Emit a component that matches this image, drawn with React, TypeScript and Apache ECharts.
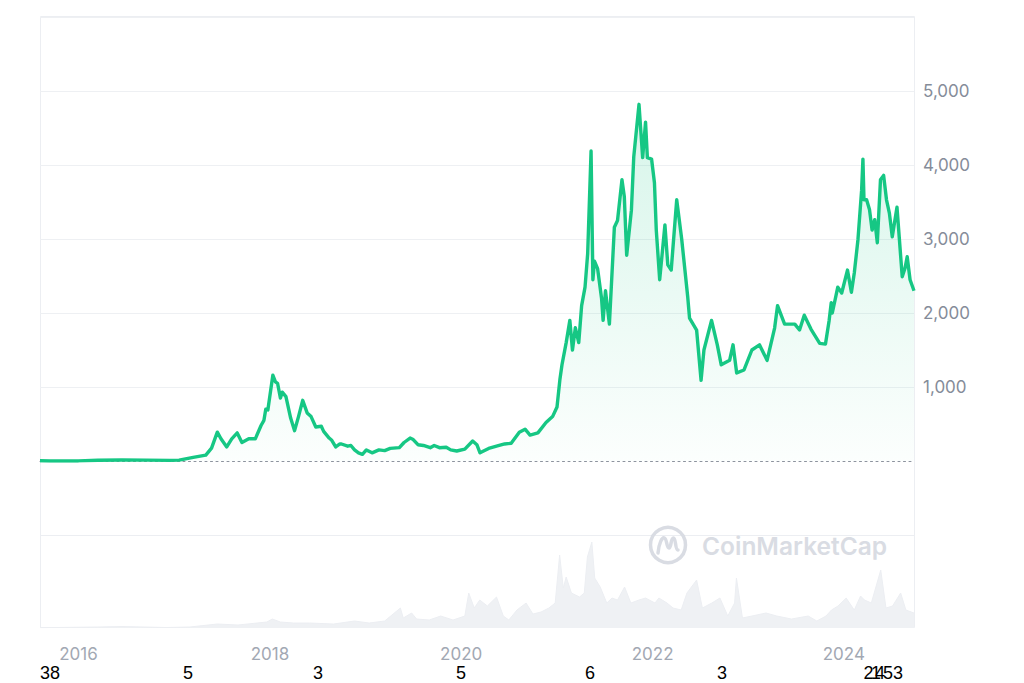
import React, { useEffect, useRef } from "react";
import * as echarts from "echarts";

// ---- data ----
const priceDates = [
  "2015-08-07", "2015-09-15", "2015-11-01", "2016-01-01", "2016-03-15", "2016-06-15", "2016-09-15", "2016-12-15",
  "2017-01-19", "2017-03-14", "2017-05-01", "2017-05-23", "2017-06-14", "2017-06-28", "2017-07-20", "2017-08-08",
  "2017-08-29", "2017-09-16", "2017-10-12", "2017-11-06", "2017-11-28", "2017-12-09", "2017-12-16", "2017-12-24",
  "2018-01-12", "2018-01-22", "2018-01-30", "2018-02-10", "2018-02-17", "2018-03-03", "2018-03-21", "2018-04-05",
  "2018-04-20", "2018-05-06", "2018-05-23", "2018-06-07", "2018-06-25", "2018-07-16", "2018-07-25", "2018-08-15",
  "2018-08-25", "2018-09-09", "2018-09-25", "2018-10-01", "2018-10-25", "2018-11-06", "2018-11-20", "2018-12-05",
  "2018-12-20", "2019-01-04", "2019-01-26", "2019-02-21", "2019-03-15", "2019-04-05", "2019-05-10", "2019-05-28",
  "2019-06-20", "2019-07-02", "2019-07-20", "2019-08-10", "2019-09-05", "2019-09-20", "2019-10-10", "2019-11-05",
  "2019-11-22", "2019-12-15", "2020-01-15", "2020-02-14", "2020-03-01", "2020-03-13", "2020-04-15", "2020-05-15",
  "2020-06-15", "2020-07-10", "2020-08-10", "2020-09-01", "2020-09-20", "2020-10-20", "2020-11-20", "2020-12-15",
  "2021-01-01", "2021-01-12", "2021-01-20", "2021-02-05", "2021-02-19", "2021-03-01", "2021-03-12", "2021-03-25",
  "2021-04-05", "2021-04-18", "2021-04-28", "2021-05-11", "2021-05-18", "2021-05-24", "2021-06-05", "2021-06-20",
  "2021-06-26", "2021-07-05", "2021-07-20", "2021-08-08", "2021-08-20", "2021-09-06", "2021-09-15", "2021-09-24",
  "2021-10-12", "2021-10-21", "2021-11-10", "2021-11-24", "2021-12-05", "2021-12-12", "2021-12-28", "2022-01-08",
  "2022-01-15", "2022-01-28", "2022-02-17", "2022-02-28", "2022-03-13", "2022-04-03", "2022-04-22", "2022-05-15",
  "2022-05-22", "2022-06-18", "2022-07-05", "2022-07-16", "2022-08-14", "2022-09-05", "2022-09-20", "2022-10-22",
  "2022-11-04", "2022-11-18", "2022-12-16", "2023-01-15", "2023-02-13", "2023-03-14", "2023-04-12", "2023-04-23",
  "2023-05-20", "2023-06-28", "2023-07-16", "2023-08-03", "2023-08-29", "2023-10-01", "2023-10-23", "2023-11-06",
  "2023-11-14", "2023-11-18", "2023-12-09", "2023-12-24", "2024-01-15", "2024-01-30", "2024-02-10", "2024-02-24",
  "2024-03-09", "2024-03-14", "2024-03-18", "2024-03-28", "2024-04-08", "2024-04-18", "2024-04-28", "2024-05-08",
  "2024-05-20", "2024-06-01", "2024-06-12", "2024-06-23", "2024-07-04", "2024-07-22", "2024-08-11", "2024-08-22",
  "2024-08-30", "2024-09-10", "2024-09-25",
];
const priceValues = [
  2.8, 1, 1, 1, 11, 14, 12, 8,
  12, 50, 80, 175, 390, 300, 190, 300,
  380, 250, 300, 300, 480, 550, 700, 690,
  1160, 1070, 1050, 850, 930, 870, 580, 410,
  600, 820, 650, 600, 460, 470, 400, 310,
  280, 190, 230, 230, 200, 210, 150, 110,
  90, 150, 110, 150, 140, 170, 180, 250,
  310, 290, 220, 210, 180, 210, 180, 185,
  150, 135, 160, 270, 220, 110, 170, 200,
  230, 240, 390, 430, 350, 380, 520, 600,
  730, 1100, 1300, 1600, 1900, 1500, 1800, 1600,
  2100, 2350, 2800, 4190, 2450, 2700, 2600, 2200,
  1900, 2300, 1850, 3160, 3250, 3800, 3570, 2780,
  3390, 4110, 4820, 4100, 4580, 4100, 4080, 3760,
  3120, 2450, 3190, 2650, 2580, 3530, 3000, 2220,
  1930, 1770, 1090, 1500, 1900, 1570, 1300, 1360,
  1570, 1190, 1230, 1500, 1570, 1360, 1800, 2100,
  1850, 1850, 1770, 1970, 1780, 1590, 1580, 1900,
  2140, 2000, 2350, 2270, 2580, 2280, 2540, 2990,
  3660, 4080, 3530, 3530, 3400, 3120, 3260, 2950,
  3800, 3860, 3530, 3350, 3030, 3430, 2490, 2610,
  2760, 2450, 2300,
];

const volumeDates = [
  "2015-08-07", "2016-03-15", "2016-06-15", "2016-12-01", "2017-03-01", "2017-06-14", "2017-09-01", "2017-12-20",
  "2018-01-10", "2018-02-10", "2018-04-01", "2018-06-01", "2018-09-01", "2018-11-20", "2019-01-15", "2019-03-15",
  "2019-05-14", "2019-05-25", "2019-06-26", "2019-07-15", "2019-09-01", "2019-10-15", "2019-12-01", "2020-01-15",
  "2020-01-30", "2020-02-20", "2020-03-12", "2020-04-10", "2020-05-15", "2020-06-10", "2020-07-01", "2020-08-01",
  "2020-09-05", "2020-10-01", "2020-11-01", "2020-12-01", "2020-12-25", "2021-01-11", "2021-01-25", "2021-02-05",
  "2021-02-25", "2021-03-28", "2021-04-15", "2021-04-27", "2021-05-14", "2021-05-25", "2021-06-15", "2021-07-10",
  "2021-07-30", "2021-08-20", "2021-09-16", "2021-10-10", "2021-11-10", "2021-12-05", "2022-01-10", "2022-01-25",
  "2022-02-25", "2022-03-20", "2022-04-20", "2022-05-12", "2022-06-18", "2022-07-10", "2022-08-15", "2022-09-15",
  "2022-10-15", "2022-11-10", "2022-11-17", "2022-12-10", "2023-01-15", "2023-03-10", "2023-04-20", "2023-06-15",
  "2023-08-18", "2023-09-20", "2023-10-25", "2023-11-15", "2023-12-10", "2024-01-10", "2024-02-10", "2024-03-05",
  "2024-03-20", "2024-04-15", "2024-05-21", "2024-06-10", "2024-07-05", "2024-08-05", "2024-08-25", "2024-09-25",
];
const volumeValues = [
  0.3, 1, 1.5, 0.5, 1, 4, 3, 6,
  9, 6, 5, 5, 4, 7, 5, 7,
  20, 10, 15, 9, 8, 12, 8, 12,
  35, 20, 28, 22, 31, 12, 8, 18,
  25, 14, 16, 20, 25, 73, 40, 51,
  35, 31, 35, 71, 86, 50, 41, 25,
  30, 28, 41, 25, 28, 30, 25, 30,
  25, 20, 18, 35, 48, 20, 25, 30,
  12, 25, 50, 10, 12, 15, 12, 9,
  12, 7, 12, 18, 22, 30, 18, 32,
  28, 25, 58, 20, 22, 35, 18, 15,
];

const yTickLabels = [1000, 2000, 3000, 4000, 5000];
const yearLabels = [2016, 2018, 2020, 2022, 2024];
const strayTexts = ["38", "5", "3", "5", "6", "3", "2", "1", "4", "53"];
const watermarkText = "CoinMarketCap";

// ---- layout / style ----
const strayX = [50, 188, 318, 461, 590, 722, 868.5, 876, 880, 893];
const GREEN = "#16c784";

try {
  echarts.graphic.registerShape(
    "cmcWave",
    (echarts.graphic as any).extendPath(
      "M-10 7 C-9 -3 -6 -9 -3.5 -8 C-1 -7 -1.5 2 1 2 C3.5 2 2.5 -8 5.5 -8 C8 -8 7 4 10 4",
      {}
    )
  );
} catch (e) {}

const priceData = priceDates.map((d, i) => [d, priceValues[i]]);
const volumeData = volumeDates.map((d, i) => [d, volumeValues[i]]);

export default function App() {
  const ref = useRef<HTMLDivElement>(null);
  useEffect(() => {
    if (!ref.current) return;
    const chart = echarts.init(ref.current, undefined, { renderer: "svg" });
    const xMin = priceDates[0];
    const xMax = priceDates[priceDates.length - 1];
    const graphics: any[] = [
      {
        type: "rect",
        z: 0,
        shape: { x: 40.5, y: 16.5, width: 874, height: 611 },
        style: { fill: "none", stroke: "#eceef2", lineWidth: 1 },
      },
      {
        type: "line",
        z: 0,
        shape: { x1: 40, y1: 535.5, x2: 914, y2: 535.5 },
        style: { stroke: "#eceef2", lineWidth: 1 },
      },
      {
        type: "circle",
        z: 1,
        shape: { cx: 668, cy: 545, r: 17.5 },
        style: { fill: "none", stroke: "#d9dce3", lineWidth: 3.5 },
      },
      {
        type: "cmcWave",
        z: 1,
        x: 668,
        y: 546,
        style: { fill: "none", stroke: "#d9dce3", lineWidth: 3.5, lineCap: "round", lineJoin: "round" },
      },
      {
        type: "text",
        z: 1,
        x: 702,
        y: 546,
        style: {
          text: watermarkText,
          fontFamily: "Inter",
          fontWeight: 600,
          fontSize: 24.5,
          fill: "#d9dce3",
          verticalAlign: "middle",
          align: "left",
        },
      },
    ];
    strayTexts.forEach((t, i) => {
      graphics.push({
        type: "text",
        z: 5,
        x: strayX[i],
        y: 672.5,
        style: {
          text: t,
          fontFamily: '"Liberation Sans Narrow", "Liberation Sans", sans-serif',
          fontSize: 18,
          fill: "#000",
          align: "center",
          verticalAlign: "middle",
        },
      });
    });

    chart.setOption({
      animation: false,
      backgroundColor: "#ffffff",
      grid: [
        { left: 40, right: 110, top: 17, height: 444 },
        { left: 40, right: 110, top: 535, height: 93 },
      ],
      xAxis: [
        {
          type: "time",
          gridIndex: 0,
          min: xMin,
          max: xMax,
          axisLine: { show: true, lineStyle: { color: "#8d939e", width: 1, type: [2, 3.5] } },
          axisTick: { show: false },
          axisLabel: { show: false },
          splitLine: { show: false },
        },
        {
          type: "time",
          gridIndex: 1,
          min: xMin,
          max: xMax,
          splitNumber: 10,
          axisLine: { show: false },
          axisTick: { show: false },
          splitLine: { show: false },
          axisLabel: {
            show: true,
            showMinLabel: false,
            showMaxLabel: false,
            hideOverlap: false,
            color: "#a2a8b3",
            fontFamily: "Inter",
            fontSize: 17,
            margin: 17,
            formatter: (val: number) => {
              const d = new Date(val);
              const y = d.getFullYear();
              return d.getMonth() === 0 && d.getDate() === 1 && yearLabels.includes(y) ? String(y) : "";
            },
          },
        },
      ],
      yAxis: [
        {
          type: "value",
          gridIndex: 0,
          position: "right",
          min: 0,
          max: 6000,
          interval: 1000,
          axisLine: { show: false },
          axisTick: { show: false },
          axisLabel: {
            color: "#858c99",
            fontFamily: "Inter",
            fontSize: 17,
            margin: 9,
            formatter: (v: number) => (yTickLabels.includes(v) ? v.toLocaleString("en-US") : ""),
          },
          splitLine: {
            show: true,
            lineStyle: {
              width: 1,
              color: ["rgba(0,0,0,0)", "#eef0f3", "#eef0f3", "#eef0f3", "#eef0f3", "#eef0f3", "#eef0f3"],
            },
          },
        },
        {
          type: "value",
          gridIndex: 1,
          min: 0,
          max: 93,
          show: false,
          splitLine: { show: false },
        },
      ],
      graphic: graphics,
      series: [
        {
          type: "line",
          name: "Volume",
          xAxisIndex: 1,
          yAxisIndex: 1,
          data: volumeData,
          showSymbol: false,
          symbol: "none",
          z: 1,
          lineStyle: { color: "#eceef2", width: 1 },
          areaStyle: { color: "#eff1f4", opacity: 1 },
        },
        {
          type: "line",
          name: "Price",
          xAxisIndex: 0,
          yAxisIndex: 0,
          data: priceData,
          showSymbol: false,
          symbol: "none",
          z: 3,
          lineStyle: { color: GREEN, width: 3.4, join: "round" },
          areaStyle: {
            color: new echarts.graphic.LinearGradient(0, 0, 0, 1, [
              { offset: 0, color: "rgba(22,199,132,0.25)" },
              { offset: 1, color: "rgba(22,199,132,0.02)" },
            ]),
          },
        },
      ],
    });
    return () => chart.dispose();
  }, []);
  return (
    <div
      ref={ref}
      style={{ position: "absolute", left: 0, top: 0, width: 1024, height: 683, background: "#fff" }}
    />
  );
}
